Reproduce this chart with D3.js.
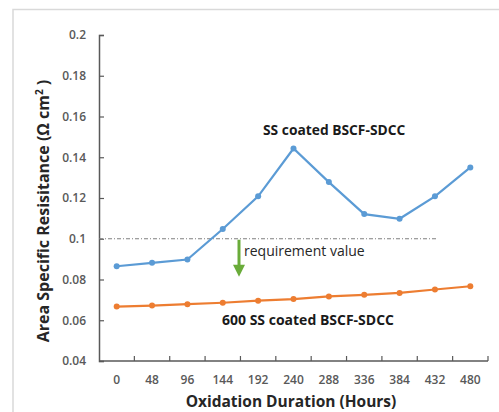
<!DOCTYPE html>
<html>
<head>
<meta charset="utf-8">
<script src="https://cdn.jsdelivr.net/npm/d3@7"></script>
<style>
  body { margin: 0; background: #fff; }
  text { font-family: "Open Sans", "Noto Sans", sans-serif; }
</style>
</head>
<body>
<script>
// data
var hours = ["0", "48", "96", "144", "192", "240", "288", "336", "384", "432", "480"];
var coatedSS = [0.0865, 0.0882, 0.0898, 0.1048, 0.1208, 0.1443, 0.1278, 0.1121, 0.1098, 0.1208, 0.1350];
var coated600 = [0.0667, 0.0672, 0.0679, 0.0686, 0.0696, 0.0704, 0.0717, 0.0725, 0.0734, 0.0751, 0.0767];
var yTicks = [0.04, 0.06, 0.08, 0.1, 0.12, 0.14, 0.16, 0.18, 0.2];
var requirement = 0.1;

const width = 499;
const height = 412;

var svg = d3.select("body").append("svg")
    .attr("width", width)
    .attr("height", height);

// outer frame
svg.append("path")
    .attr("d", "M13,412V9.5H499")
    .attr("fill", "none")
    .attr("stroke", "#d9d9d9")
    .attr("stroke-width", 1.5);

var x = d3.scaleBand().domain(hours).range([99, 488]).padding(0);
var y = d3.scaleLinear().domain([0.04, 0.2]).range([361, 35]);

// y axis
var yAxis = svg.append("g").attr("transform", "translate(99,0)")
    .call(d3.axisLeft(y).tickValues(yTicks).tickSize(-5).tickPadding(13)
        .tickFormat(function(d) { return d3.format("")(+d.toFixed(2)); }));
yAxis.select(".domain").attr("stroke", "#595959").attr("stroke-width", 1.5);
yAxis.selectAll(".tick line").attr("stroke", "#595959").attr("stroke-width", 1.2);
yAxis.selectAll("text").attr("fill", "#595959").attr("font-size", 12)
    .attr("font-weight", 600).attr("font-family", "Open Sans");

// x axis, ticks sit between categories
var xAxis = svg.append("g").attr("transform", "translate(0,361)");
xAxis.append("line")
    .attr("x1", 99).attr("x2", 488)
    .attr("stroke", "#595959").attr("stroke-width", 1.5);
xAxis.selectAll("line.tk")
    .data(hours)
    .enter().append("line")
    .attr("class", "tk")
    .attr("x1", function(d) { return x(d) + x.bandwidth(); })
    .attr("x2", function(d) { return x(d) + x.bandwidth(); })
    .attr("y1", 0).attr("y2", -5)
    .attr("stroke", "#595959").attr("stroke-width", 1.2);
xAxis.selectAll("text")
    .data(hours)
    .enter().append("text")
    .attr("x", function(d) { return x(d) + x.bandwidth() / 2; })
    .attr("y", 23)
    .attr("text-anchor", "middle")
    .attr("fill", "#595959")
    .attr("font-size", 12)
    .attr("font-weight", 600)
    .text(function(d) { return d; });

// axis titles
svg.append("text")
    .attr("x", 291).attr("y", 407)
    .attr("text-anchor", "middle")
    .attr("font-size", 15.5).attr("font-weight", 700).attr("fill", "#262626")
    .text("Oxidation Duration (Hours)");

var yt = svg.append("text")
    .attr("transform", "translate(49,211) rotate(-90)")
    .attr("text-anchor", "middle")
    .attr("font-size", 16).attr("font-weight", 700).attr("fill", "#262626");
yt.append("tspan").text("Area Specific Resisitance (Ω cm");
yt.append("tspan").attr("font-size", 10).attr("dy", -6).text("2");
yt.append("tspan").attr("dy", 6).text(" )");

// requirement line
svg.append("line")
    .attr("x1", 99).attr("x2", 437)
    .attr("y1", y(requirement)).attr("y2", y(requirement))
    .attr("stroke", "#7f7f7f").attr("stroke-width", 1)
    .attr("stroke-dasharray", "4,2,1,2");

// green arrow
var ax = 239;
svg.append("line")
    .attr("x1", ax).attr("x2", ax)
    .attr("y1", y(requirement) + 1).attr("y2", y(requirement) + 28)
    .attr("stroke", "#6aac3a").attr("stroke-width", 3);
svg.append("path")
    .attr("d", "M" + (ax - 6) + "," + (y(requirement) + 26) + "L" + (ax + 6) + "," + (y(requirement) + 26) + "L" + ax + "," + (y(requirement) + 38) + "Z")
    .attr("fill", "#6aac3a");

svg.append("text")
    .attr("x", 244).attr("y", 256)
    .attr("font-size", 14).attr("fill", "#262626")
    .text("requirement value");

// series
var line = d3.line()
    .x(function(d, i) { return x(hours[i]) + x.bandwidth() / 2; })
    .y(function(d) { return y(d); });

function drawSeries(vals, color) {
    svg.append("path")
        .datum(vals)
        .attr("d", line)
        .attr("fill", "none")
        .attr("stroke", color)
        .attr("stroke-width", 2.2);
    svg.selectAll(null)
        .data(vals)
        .enter().append("circle")
        .attr("cx", function(d, i) { return x(hours[i]) + x.bandwidth() / 2; })
        .attr("cy", function(d) { return y(d); })
        .attr("r", 3)
        .attr("fill", color);
}
drawSeries(coatedSS, "#5b9bd5");
drawSeries(coated600, "#ed7d31");

// series labels
svg.append("text")
    .attr("x", 263).attr("y", 135)
    .attr("font-size", 13.8).attr("font-weight", 700).attr("fill", "#1a1a1a")
    .text("SS coated BSCF-SDCC");
svg.append("text")
    .attr("x", 222).attr("y", 325)
    .attr("font-size", 14).attr("font-weight", 700).attr("fill", "#1a1a1a")
    .text("600 SS coated BSCF-SDCC");
</script>
</body>
</html>
